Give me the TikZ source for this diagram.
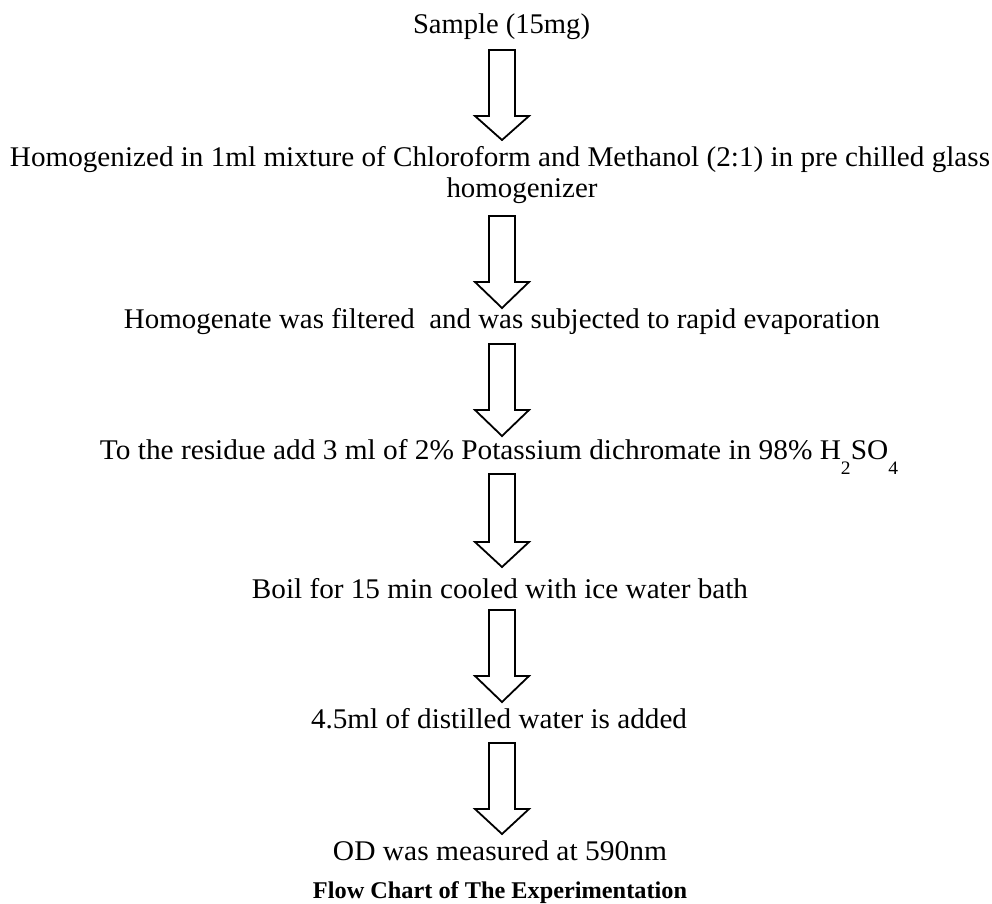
\documentclass[tikz,border=0pt]{standalone}
\usepackage{fontspec}
\setmainfont{Liberation Serif}
\usepackage{graphicx}
\newcommand\fitw[2]{\resizebox{#1pt}{\height}{#2}}
\newcommand\lowsub[1]{\raisebox{-15pt}{\fontsize{19}{20}\selectfont #1}}
\tikzset{
  lbl/.style={anchor=base, inner sep=0pt, font=\fontsize{28.5}{30}\selectfont},
  captionlbl/.style={anchor=base, inner sep=0pt, font=\fontsize{24}{26}\selectfont\bfseries},
  blockarrow/.style={draw=black, line width=1.8pt, fill=white, line join=miter}
}
% #1 top of shaft, #2 base of head, #3 tip
\newcommand\flowarrow[3]{%
  \draw[blockarrow] (489,#1) -- (515,#1) -- (515,#2) -- (529,#2) -- (502,#3)
    -- (475,#2) -- (489,#2) -- cycle;}
\begin{document}
\begin{tikzpicture}[x=1pt,y=-1pt]
\useasboundingbox (0,0) rectangle (992,903);
\node[lbl] (s1) at (501.5,33) {\fitw{177}{Sample (15mg)}};
\flowarrow{50}{116}{140}
\node[lbl] (s2a) at (500,166) {\fitw{980}{Homogenized in 1ml mixture of Chloroform and Methanol (2:1) in pre chilled glass}};
\node[lbl] (s2b) at (522,197) {\fitw{151}{homogenizer}};
\flowarrow{216}{282}{308}
\node[lbl] (s3) at (502,328) {\fitw{756}{Homogenate was filtered\ \ and was subjected to rapid evaporation}};
\flowarrow{344}{410}{436}
\node[lbl] (s4) at (499,459) {\fitw{798}{To the residue add 3 ml of 2\% Potassium dichromate in 98\% H\lowsub{2}SO\lowsub{4}}};
\flowarrow{474}{542}{567}
\node[lbl] (s5) at (500,598) {\fitw{496}{Boil for 15 min cooled with ice water bath}};
\flowarrow{610}{676}{702}
\node[lbl] (s6) at (499,728) {\fitw{376}{4.5ml of distilled water is added}};
\flowarrow{743}{809}{834}
\node[lbl] (s7) at (500,860) {\fitw{334}{OD was measured at 590nm}};
\node[captionlbl] (cap) at (500,898) {\fitw{374}{Flow Chart of The Experimentation}};
\end{tikzpicture}
\end{document}
